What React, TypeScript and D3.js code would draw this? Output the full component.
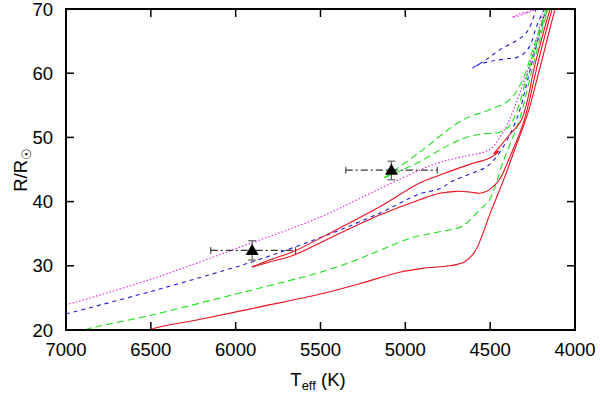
import React from 'react';
import * as d3 from 'd3';

const W = 600, H = 393;
const M = { left: 66, right: 575, top: 9, bottom: 330 };

const xTicks = [7000, 6500, 6000, 5500, 5000, 4500, 4000];
const yTicks = [20, 30, 40, 50, 60, 70];

// Red solid, lowest track
const redLowT = [6560, 6486, 6200, 5857, 5500, 5270, 5034, 4900, 4740, 4652, 4593, 4546, 4504, 4463, 4416, 4357, 4281, 4210, 4116, 4100];
const redLowR = [19.2, 20.2, 21.7, 23.6, 25.6, 27.2, 29.0, 29.6, 30.0, 30.6, 32.1, 34.8, 37.9, 40.6, 43.7, 48.0, 53.5, 60.5, 70.0, 71.0];
// Green dashed, lowest track
const greenLowT = [6950, 6869, 6500, 6000, 5698, 5500, 5300, 5151, 4957, 4799, 4663, 4563, 4504, 4420, 4328, 4240, 4157, 4140];
const greenLowR = [19.5, 20.2, 22.3, 25.6, 27.6, 29.0, 30.8, 32.4, 34.4, 35.3, 36.2, 38.7, 40.3, 46.5, 52.7, 62.0, 70.0, 71.0];
// Red solid, upper middle track
const redUpT = [5904, 5800, 5663, 5400, 5151, 4916, 4799, 4622, 4520, 4475, 4450, 4480, 4445, 4390, 4316, 4230, 4146, 4130];
const redUpR = [29.8, 30.9, 32.2, 35.7, 39.2, 42.9, 44.1, 45.8, 46.6, 47.2, 47.9, 47.4, 48.5, 50.3, 52.7, 62.0, 70.0, 71.0];
// Red solid, lower middle track
const redMidT = [5904, 5800, 5663, 5446, 5151, 4916, 4799, 4700, 4622, 4560, 4520, 4493, 4446, 4380, 4299, 4215, 4134, 4120];
const redMidR = [29.8, 30.6, 31.6, 34.3, 37.9, 40.3, 41.3, 41.6, 41.5, 41.3, 41.6, 42.1, 43.4, 47.2, 52.7, 62.0, 70.0, 71.0];
// Blue dashed track
const blueT = [7000, 6500, 5975, 5904, 5500, 5151, 4916, 4799, 4722, 4620, 4522, 4446, 4346, 4250, 4169, 4150];
const blueR = [22.5, 26.0, 30.0, 30.6, 34.4, 38.2, 41.2, 42.0, 43.2, 44.3, 45.4, 47.6, 52.7, 62.0, 70.0, 71.0];
// Blue dashed loop near the top
const blueLoopT = [4228, 4287, 4446, 4530, 4605, 4563, 4504, 4420, 4328, 4269, 4228, 4181, 4170];
const blueLoopR = [70.2, 66.3, 63.6, 62.0, 60.8, 61.4, 61.8, 62.2, 62.6, 64.1, 67.2, 70.0, 70.5];
// Magenta dotted track
const pinkT = [7000, 6500, 5975, 5500, 5151, 4916, 4799, 4663, 4504, 4428, 4387, 4260, 4181, 4165];
const pinkR = [23.9, 27.9, 32.9, 37.6, 42.0, 44.9, 46.1, 47.0, 48.1, 50.7, 52.7, 62.0, 70.0, 71.0];
// Magenta dotted loop near the top
const pinkLoopT = [4240, 4300, 4369, 4320, 4257, 4230];
const pinkLoopR = [70.2, 69.2, 68.7, 69.3, 69.6, 70.2];
// Green dashed upper tracks
const greenUp1T = [5125, 4916, 4663, 4504, 4387, 4310, 4240, 4169, 4150];
const greenUp1R = [43.7, 47.7, 52.7, 54.3, 55.8, 58.9, 64.4, 70.0, 71.5];
const greenUp2T = [5125, 4916, 4799, 4681, 4563, 4446, 4387, 4340, 4281, 4210, 4163, 4150];
const greenUp2R = [43.7, 46.2, 48.0, 49.6, 50.5, 50.8, 51.8, 54.3, 59.7, 66.0, 70.0, 71.5];

// Observed points
const obsT = [5903, 5082];
const obsTlo = [5647, 4812];
const obsThi = [6147, 5351];
const obsR = [32.4, 44.9];
const obsRlo = [30.9, 43.4];
const obsRhi = [33.9, 46.3];

const RED = '#ec1020', GREEN = '#1ee01e', BLUE = '#1a1ad8', PINK = '#e020e0';

const series = [
  { T: redLowT, R: redLowR, color: RED, dash: null },
  { T: greenLowT, R: greenLowR, color: GREEN, dash: '7,4' },
  { T: pinkT, R: pinkR, color: PINK, dash: '1.5,2' },
  { T: pinkLoopT, R: pinkLoopR, color: PINK, dash: '1.5,2' },
  { T: blueT, R: blueR, color: BLUE, dash: '4,4' },
  { T: blueLoopT, R: blueLoopR, color: BLUE, dash: '4,4' },
  { T: greenUp1T, R: greenUp1R, color: GREEN, dash: '7,4' },
  { T: greenUp2T, R: greenUp2R, color: GREEN, dash: '7,4' },
  { T: redMidT, R: redMidR, color: RED, dash: null },
  { T: redUpT, R: redUpR, color: RED, dash: null },
];

export default function App() {
  const x = d3.scaleLinear().domain([7000, 4000]).range([M.left, M.right]);
  const y = d3.scaleLinear().domain([20, 70]).range([M.bottom, M.top]);
  const line = d3.line<[number, number]>()
    .x(d => x(d[0])).y(d => y(d[1]))
    .curve(d3.curveCatmullRom.alpha(0.5));
  const font = '"Liberation Sans", Arial, Helvetica, sans-serif';
  const tl = 8;
  return (
    <svg width={W} height={H} style={{ position: 'absolute', left: 0, top: 0, background: '#fff' }}>
      <defs>
        <clipPath id="plot">
          <rect x={M.left} y={M.top} width={M.right - M.left} height={M.bottom - M.top} />
        </clipPath>
      </defs>
      <rect x={0} y={0} width={W} height={H} fill="#fff" />
      <g clipPath="url(#plot)">
        {series.map((s, i) => (
          <path key={i} d={line(s.T.map((t, j) => [t, s.R[j]]) as [number, number][]) || ''}
            fill="none" stroke={s.color} strokeWidth={1.1}
            strokeDasharray={s.dash || undefined} />
        ))}
        {obsT.map((t, i) => {
          const cx = x(t), cy = y(obsR[i]);
          return (
            <g key={'o' + i}>
              <line x1={x(obsThi[i])} x2={x(obsTlo[i])} y1={cy} y2={cy} stroke="#333" strokeWidth={1.1} strokeDasharray="7,3,2,3" />
              <line x1={x(obsThi[i])} x2={x(obsThi[i])} y1={cy - 3.5} y2={cy + 3.5} stroke="#444" strokeWidth={1.1} />
              <line x1={x(obsTlo[i])} x2={x(obsTlo[i])} y1={cy - 3.5} y2={cy + 3.5} stroke="#444" strokeWidth={1.1} />
              <line x1={cx} x2={cx} y1={y(obsRlo[i])} y2={y(obsRhi[i])} stroke="#555" strokeWidth={1.1} />
              <line x1={cx - 4} x2={cx + 4} y1={y(obsRlo[i])} y2={y(obsRlo[i])} stroke="#555" strokeWidth={1.1} />
              <line x1={cx - 4} x2={cx + 4} y1={y(obsRhi[i])} y2={y(obsRhi[i])} stroke="#555" strokeWidth={1.1} />
              <path d={`M${cx},${cy - 6.5}L${cx - 6.5},${cy + 4.5}L${cx + 6.5},${cy + 4.5}Z`} fill="#000" />
            </g>
          );
        })}
      </g>
      {xTicks.map(t => (
        <g key={'x' + t}>
          <line x1={x(t)} x2={x(t)} y1={M.bottom} y2={M.bottom - tl} stroke="#000" strokeWidth={1.5} />
          <line x1={x(t)} x2={x(t)} y1={M.top} y2={M.top + tl} stroke="#000" strokeWidth={1.5} />
          <text x={x(t)} y={356} textAnchor="middle" fontFamily={font} fontSize={18.5} fill="#000">{t}</text>
        </g>
      ))}
      {yTicks.map(t => (
        <g key={'y' + t}>
          <line x1={M.left} x2={M.left + tl} y1={y(t)} y2={y(t)} stroke="#000" strokeWidth={1.5} />
          <line x1={M.right} x2={M.right - tl} y1={y(t)} y2={y(t)} stroke="#000" strokeWidth={1.5} />
          <text x={53} y={y(t) + 6.5} textAnchor="end" fontFamily={font} fontSize={18.5} fill="#000">{t}</text>
        </g>
      ))}
      <rect x={M.left} y={M.top} width={M.right - M.left} height={M.bottom - M.top} fill="none" stroke="#000" strokeWidth={2} />
      <text x={318} y={386} textAnchor="middle" fontFamily={font} fontSize={18.5} fill="#000">
        T<tspan fontSize={13} dy={4}>eff</tspan><tspan dy={-4}> (K)</tspan>
      </text>
      <text transform="translate(27,170) rotate(-90)" textAnchor="middle" fontFamily={font} fontSize={18.5} fill="#000">
        R/R<tspan fontSize={13} dy={4} fontFamily='"DejaVu Sans", sans-serif'>☉</tspan>
      </text>
    </svg>
  );
}
